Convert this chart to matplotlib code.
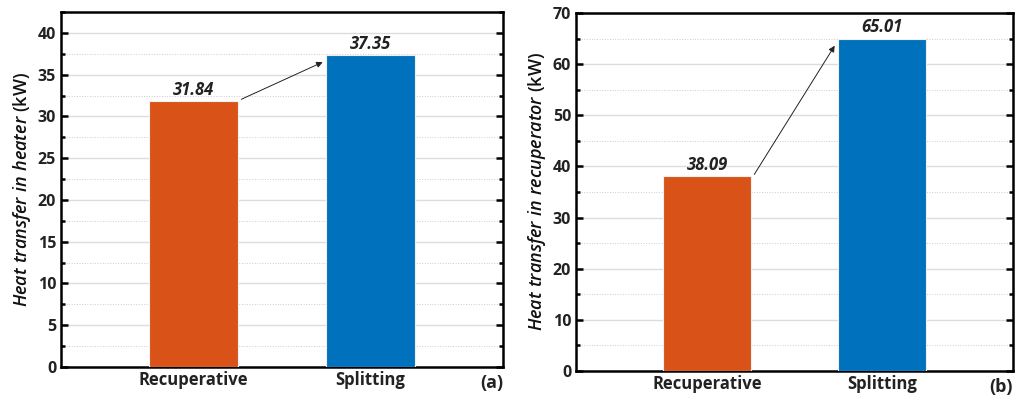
import matplotlib.pyplot as plt
import numpy as np
from matplotlib.ticker import MultipleLocator

plt.rcParams['font.family'] = ['Open Sans', 'DejaVu Sans']
plt.rcParams['mathtext.fontset'] = 'custom'
plt.rcParams['mathtext.rm'] = 'Open Sans:semibold'
plt.rcParams['mathtext.it'] = 'Open Sans:italic:semibold'

cycles = ['Recuperative', 'Splitting']
heater = [31.84, 37.35]
recuperator = [38.09, 65.01]
colors = ['#D95319', '#0072BD']

fig = plt.figure(figsize=(10.25, 3.98), dpi=100)
ax1 = fig.add_axes([61/1025, 1-367/398, 442/1025, 355/398])
ax2 = fig.add_axes([576/1025, 1-371/398, 437/1025, 358/398])


def panel(ax, vals, ylabel, ymax, major, tag):
    x = np.arange(len(cycles))
    ax.bar(x, vals, width=0.5, color=colors, edgecolor='#f0f0f0', linewidth=0.8, zorder=3)
    for xi, v in zip(x, vals):
        ax.text(xi, v + ymax*0.006, '%.2f' % v, ha='center', va='bottom',
                fontsize=12, fontweight='bold', style='italic', color='#222222')
    ax.annotate('', xy=(x[1]-0.27, vals[1]-ymax*0.02), xytext=(x[0]+0.27, vals[0]+ymax*0.005),
                arrowprops=dict(arrowstyle='-|>', color='#222222', lw=0.7,
                                mutation_scale=9, shrinkA=0, shrinkB=0), zorder=4)
    ax.set_xlim(-0.75, 1.75)
    ax.set_ylim(0, ymax)
    ax.set_xticks(x)
    ax.set_xticklabels(cycles, fontsize=12, fontweight='bold', color='#222222')
    ax.yaxis.set_major_locator(MultipleLocator(major))
    ax.yaxis.set_minor_locator(MultipleLocator(major/2))
    ax.tick_params(axis='y', which='both', direction='in', left=True, right=True,
                   width=1.8, labelsize=11.5, labelcolor='#222222')
    ax.tick_params(axis='y', which='major', length=5)
    ax.tick_params(axis='y', which='minor', length=3)
    ax.tick_params(axis='x', length=0, pad=3)
    for lab in ax.get_yticklabels():
        lab.set_fontweight('bold')
    ax.grid(axis='y', which='major', color='#dcdcdc', lw=1.0, zorder=0)
    ax.grid(axis='y', which='minor', color='#cccccc', lw=0.7, ls=':', zorder=0)
    for s in ax.spines.values():
        s.set_linewidth(1.8)
    ax.set_ylabel(ylabel, fontsize=13, fontweight='semibold', color='#111111', labelpad=3)
    ax.text(1.0, -0.045, tag, transform=ax.transAxes, ha='right', va='center',
            fontsize=13, fontweight='bold', color='#222222')


panel(ax1, heater, r'$\mathit{Heat\ transfer\ in\ heater}$ (kW)', 42.5, 5, '(a)')
panel(ax2, recuperator, r'$\mathit{Heat\ transfer\ in\ recuperator}$ (kW)', 70, 10, '(b)')

fig.savefig('out.png', dpi=100)
